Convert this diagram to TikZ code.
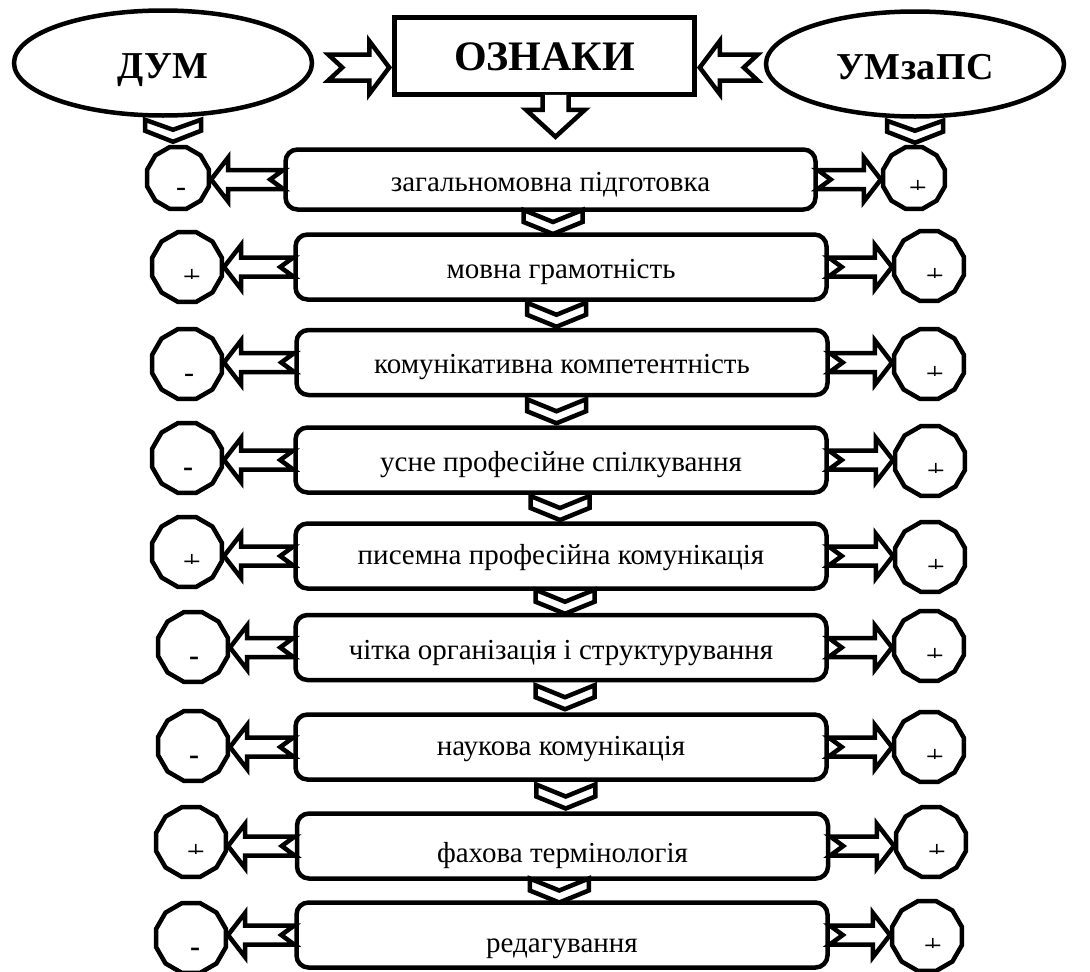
\documentclass[tikz,border=0pt]{standalone}
\usepackage{fontspec}
\setmainfont{Liberation Serif}
\usetikzlibrary{shapes.geometric,calc}

\tikzset{
  outline/.style={line width=4.5pt, draw=black},
  rowbox/.style={outline, fill=white, rectangle, rounded corners=12pt,
    minimum width=531pt, minimum height=65pt, inner sep=0pt,
    text depth=0pt, font=\fontsize{29}{34}\selectfont},
  markpoly/.style={outline, fill=white, regular polygon, regular polygon sides=12,
    minimum size=72pt, inner sep=0pt},
  oval/.style={outline, fill=white, ellipse, minimum width=298pt, minimum height=105pt,
    inner sep=0pt, text height=30pt, text depth=0pt,
    font=\bfseries\fontsize{38}{44}\selectfont},
  headbox/.style={outline, fill=white, rectangle, minimum width=300pt, minimum height=77pt,
    inner sep=0pt, text height=28pt, text depth=0pt,
    font=\bfseries\fontsize{42}{48}\selectfont},
  arrowline/.style={line width=4.5pt, line join=miter, draw=black, fill=white},
  signtext/.style={inner sep=0pt, anchor=base, font=\fontsize{30}{34}\selectfont},
  plustext/.style={inner sep=0pt, anchor=base, font=\fontsize{32}{36}\selectfont},
}

% notched block arrow: [options]{tail}{tip}{half shaft}{half head}{head length}{notch depth}
\newcommand\blockarrow[7][]{%
  \draw[arrowline,#1] let \p1=#2, \p2=#3,
      \n1={veclen(\x2-\x1,\y2-\y1)},
      \n2={(\x2-\x1)/\n1}, \n3={(\y2-\y1)/\n1} in
    ({\x1-(#4)*\n3},{\y1+(#4)*\n2})
    -- ({\x1+(\n1-#6)*\n2-(#4)*\n3},{\y1+(\n1-#6)*\n3+(#4)*\n2})
    -- ({\x1+(\n1-#6)*\n2-(#5)*\n3},{\y1+(\n1-#6)*\n3+(#5)*\n2})
    -- (\p2)
    -- ({\x1+(\n1-#6)*\n2+(#5)*\n3},{\y1+(\n1-#6)*\n3-(#5)*\n2})
    -- ({\x1+(\n1-#6)*\n2+(#4)*\n3},{\y1+(\n1-#6)*\n3-(#4)*\n2})
    -- ({\x1+(#4)*\n3},{\y1-(#4)*\n2})
    -- ({\x1+(#7)*\n2},{\y1+(#7)*\n3})
    -- cycle;}

% block arrow whose tail edge is left open: {tail}{tip}{half shaft}{half head}{head length}
\newcommand\openarrow[5]{%
  \draw[arrowline] let \p1=#1, \p2=#2,
      \n1={veclen(\x2-\x1,\y2-\y1)},
      \n2={(\x2-\x1)/\n1}, \n3={(\y2-\y1)/\n1} in
    ({\x1-(#3)*\n3},{\y1+(#3)*\n2})
    -- ({\x1+(\n1-#5)*\n2-(#3)*\n3},{\y1+(\n1-#5)*\n3+(#3)*\n2})
    -- ({\x1+(\n1-#5)*\n2-(#4)*\n3},{\y1+(\n1-#5)*\n3+(#4)*\n2})
    -- (\p2)
    -- ({\x1+(\n1-#5)*\n2+(#4)*\n3},{\y1+(\n1-#5)*\n3-(#4)*\n2})
    -- ({\x1+(\n1-#5)*\n2+(#3)*\n3},{\y1+(\n1-#5)*\n3-(#3)*\n2})
    -- ({\x1+(#3)*\n3},{\y1-(#3)*\n2});}

% side arrows between a row box and its marks
\newcommand\leftlink[2]{\blockarrow{(#1.west)}{(#2.east |- #1.west)}{9.5}{22}{17}{13}}
\newcommand\rightlink[2]{\blockarrow{(#1.east)}{(#2.west |- #1.east)}{9.5}{22}{17}{13}}

% chevron between two stacked row boxes
\newcommand\chevron[3]{%
  \coordinate (m#1#2) at ($(#1.south)!0.5!(#2.north)$);
  \blockarrow{($(m#1#2)+(#3,-12)$)}{($(m#1#2)+(#3,12)$)}{29.5}{29.5}{12}{12}}

% marks inside the polygons; the plus is cut off just under its bar
\newcommand\plusmark[3]{%
  \begin{scope}
    \clip ($(#2.center)+(-30,-40)$) rectangle ($(#2.center)+(30,11.1)$);
    \node[plustext] (#1) at ($(#2.center)+(#3,20.7)$) {+};
  \end{scope}}
\newcommand\minusmark[4][]{%
  \node[signtext, #1] (#2) at ($(#3.center)+(#4,18)$) {-};}

\begin{document}
\begin{tikzpicture}[x=1pt, y=-1pt]
\useasboundingbox (0,0) rectangle (1090,972);

% header row
\node[oval] (dum) at (163,63) {ДУМ};
\node[oval] (umz) at (915,64) {УМ\kern1pt за\kern1pt ПС};
\node[headbox] (oznaki) at (544.5,56) {ОЗНАКИ};

% feature boxes
\node[rowbox, minimum width=530pt, minimum height=60pt, text height=24pt] (r1) at (550.5,179.5) {загальномовна підготовка};
\node[rowbox, text height=22pt] (r2) at (561,267)   {мовна грамотність};
\node[rowbox, text height=21pt] (r3) at (562,362.5) {комунікативна компетентність};
\node[rowbox, text height=22pt] (r4) at (561,460)   {усне професійне спілкування};
\node[rowbox, text height=16pt] (r5) at (561,556)   {писемна професійна комунікація};
\node[rowbox, text height=23pt] (r6) at (561,647.5) {чітка організація і структурування};
\node[rowbox, text height=16pt] (r7) at (561,747)   {наукова комунікація};
\node[rowbox, text height=32pt] (r8) at (562.5,846) {фахова термінологія};
\node[rowbox, text height=34pt] (r9) at (562,935)   {редагування};

% marks, left column
\node[markpoly, minimum size=64pt] (l1) at (178,178) {};
\node[markpoly] (l2) at (187,267) {};
\node[markpoly] (l3) at (187,364) {};
\node[markpoly] (l4) at (187,458) {};
\node[markpoly] (l5) at (187,552) {};
\node[markpoly] (l6) at (193,647) {};
\node[markpoly] (l7) at (193,746) {};
\node[markpoly] (l8) at (191,842) {};
\node[markpoly] (l9) at (191,938) {};

% marks, right column
\node[markpoly, minimum size=64pt] (q1) at (914,178) {};
\node[markpoly] (q2) at (929,266) {};
\node[markpoly] (q3) at (929,364) {};
\node[markpoly] (q4) at (930,461) {};
\node[markpoly] (q5) at (930,557) {};
\node[markpoly] (q6) at (929,646) {};
\node[markpoly] (q7) at (929,747) {};
\node[markpoly] (q8) at (931,842) {};
\node[markpoly] (q9) at (927,936) {};

% signs
\minusmark{sl1}{l1}{3}
\plusmark{sl2}{l2}{5}
\minusmark{sl3}{l3}{2}
\minusmark[font=\bfseries\fontsize{30}{34}\selectfont]{sl4}{l4}{1}
\plusmark{sl5}{l5}{5}
\minusmark[font=\bfseries\fontsize{30}{34}\selectfont]{sl6}{l6}{1}
\minusmark[font=\bfseries\fontsize{30}{34}\selectfont]{sl7}{l7}{1}
\plusmark{sl8}{l8}{5}
\minusmark[font=\bfseries\fontsize{30}{34}\selectfont]{sl9}{l9}{4}
\plusmark{sq1}{q1}{4}
\plusmark{sq2}{q2}{6}
\plusmark{sq3}{q3}{6}
\plusmark{sq4}{q4}{6}
\plusmark{sq5}{q5}{6}
\plusmark{sq6}{q6}{6}
\plusmark{sq7}{q7}{6}
\plusmark{sq8}{q8}{6}
\plusmark{sq9}{q9}{6}

% header arrows
\coordinate (dumtail) at ($(dum.east)+(14,4.5)$);
\coordinate (umztail) at ($(umz.west)+(-6,3.5)$);
\blockarrow{(dumtail)}{($(oznaki.west |- dumtail)+(-3,0)$)}{13}{26.5}{20}{14}
\blockarrow{(umztail)}{($(oznaki.east |- umztail)+(3,0)$)}{13}{26.5}{20}{14}
\openarrow{($(oznaki.south)+(11,-2)$)}{($(oznaki.south)+(11,40)$)}{13}{29.5}{27}
\blockarrow{($(dum.south)+(10,2)$)}{($(dum.south)+(10,24)$)}{28}{28}{11}{10}
\blockarrow{($(umz.south)+(0,2)$)}{($(umz.south)+(0,24)$)}{28}{28}{11}{10}

% side arrows
\leftlink{r1}{l1} \rightlink{r1}{q1}
\leftlink{r2}{l2} \rightlink{r2}{q2}
\leftlink{r3}{l3} \rightlink{r3}{q3}
\leftlink{r4}{l4} \rightlink{r4}{q4}
\leftlink{r5}{l5} \rightlink{r5}{q5}
\leftlink{r6}{l6} \rightlink{r6}{q6}
\leftlink{r7}{l7} \rightlink{r7}{q7}
\leftlink{r8}{l8} \rightlink{r8}{q8}
\leftlink{r9}{l9} \rightlink{r9}{q9}

% chevrons between the boxes
\chevron{r1}{r2}{-2.75}
\chevron{r2}{r3}{-5}
\chevron{r3}{r4}{-5}
\chevron{r4}{r5}{-1}
\chevron{r5}{r6}{4}
\chevron{r6}{r7}{4}
\chevron{r7}{r8}{4}
\chevron{r8}{r9}{-3}
\end{tikzpicture}
\end{document}
